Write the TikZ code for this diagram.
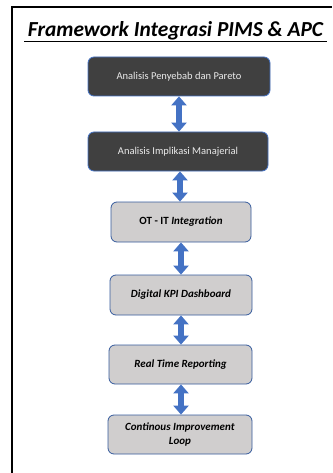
\documentclass[tikz,border=0pt]{standalone}
\usepackage{fontspec}
\setmainfont{Carlito}
\usetikzlibrary{arrows.meta}
\definecolor{frblue}{HTML}{4472C4}
\definecolor{darkbox}{HTML}{404040}
\definecolor{lightbox}{HTML}{D0CECE}
\begin{document}
\begin{tikzpicture}[x=1pt,y=-1pt,
  darkstep/.style={draw=frblue, line width=0.8pt, fill=darkbox, rounded corners=6pt,
    text=white!92!black, font=\fontsize{10.5}{12}\selectfont, align=center,
    minimum height=39pt, inner sep=2pt},
  lightstep/.style={draw=frblue!80!black, line width=0.8pt, fill=lightbox, rounded corners=6pt,
    text=black, font=\fontsize{11}{14}\selectfont\bfseries, align=center,
    minimum height=39pt, inner sep=2pt},
  link/.style={draw=frblue, line width=6pt,
    {Triangle[width=15pt,length=9pt]}-{Triangle[width=15pt,length=9pt]}, shorten <=0pt, shorten >=0pt}
]
\useasboundingbox (0,0) rectangle (332,473);
\fill[white] (0,0) rectangle (332,473);
\draw[line width=2pt, black] (12,473) -- (12,7) -- (332,7);
\node[font=\fontsize{21.4}{25}\selectfont\bfseries\itshape, anchor=base] (title) at (175.5,36.5) {Framework Integrasi PIMS \& APC};
\draw[line width=1.3pt] (title.base west) ++(0,5) coordinate (ul1) -- (title.base east |- ul1);
\node[darkstep, minimum width=182pt] (b1) at (179,76.5) {Analisis Penyebab dan Pareto};
\node[darkstep, minimum width=180pt] (b2) at (178,151.5) {Analisis Implikasi Manajerial};
\node[lightstep, minimum width=140pt, minimum height=40pt] (b3) at (181,222) {OT - IT \textit{Integration}};
\node[lightstep, minimum width=142pt, minimum height=40pt] (b4) at (181,295) {\textit{Digital KPI Dashboard}};
\node[lightstep, minimum width=143pt] (b5) at (180.5,364.5) {\textit{Real Time Reporting}};
\node[lightstep, minimum width=144pt] (b6) at (180,434.5) {\textit{Continous Improvement}\\\textit{Loop}};
\draw[link] ([xshift=0pt]b1.south) -- (b1.south |- b2.north);
\draw[link] ([xshift=2pt]b2.south) -- ([xshift=2pt]b2.south |- b3.north);
\draw[link] (b3.south) -- (b3.south |- b4.north);
\draw[link] (b4.south) -- (b4.south |- b5.north);
\draw[link] ([xshift=0.5pt]b5.south) -- ([xshift=0.5pt]b5.south |- b6.north);
\end{tikzpicture}
\end{document}
